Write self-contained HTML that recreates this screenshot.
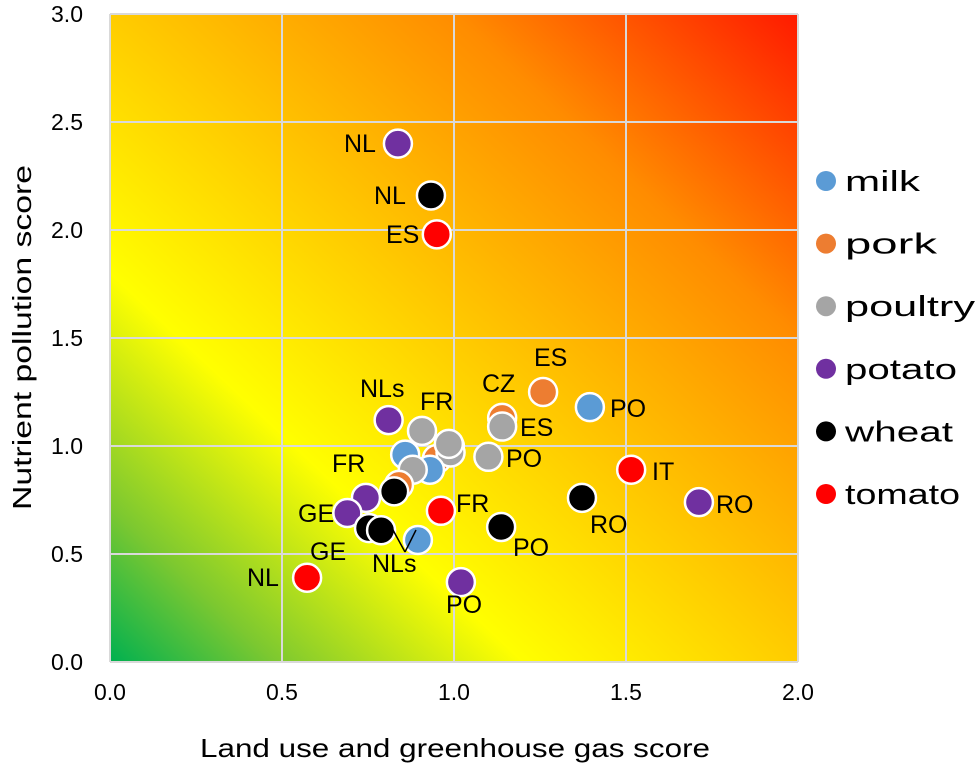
<!DOCTYPE html>
<html><head><meta charset="utf-8"><style>
body{margin:0;background:#fff;}
svg text{font-family:"Liberation Sans",sans-serif;fill:#000;}
</style></head><body>
<svg id="c" width="980" height="774" xmlns="http://www.w3.org/2000/svg">
<defs>
<linearGradient id="bg" x1="0" y1="1" x2="1" y2="0">
<stop offset="0" stop-color="#00b050"/>
<stop offset="0.12" stop-color="#7cc830"/>
<stop offset="0.3" stop-color="#ffff00"/>
<stop offset="0.5" stop-color="#ffcc00"/>
<stop offset="0.75" stop-color="#ff8c00"/>
<stop offset="1" stop-color="#ff1a00"/>
</linearGradient>
</defs>
<rect x="110" y="14" width="688" height="648" fill="url(#bg)"/>
<g id="grid"></g>
<g id="ticks"></g>
<g id="pts"></g>
<g id="lbls"></g>
<line x1="393" y1="530" x2="405" y2="552" stroke="#000" stroke-width="1.5"/>
<line x1="405" y1="552" x2="416" y2="530" stroke="#000" stroke-width="1.5"/>
<text x="200" y="757" font-size="26" textLength="510" lengthAdjust="spacingAndGlyphs">Land use and greenhouse gas score</text>
<text transform="translate(31,510) rotate(-90)" font-size="26" textLength="345" lengthAdjust="spacingAndGlyphs">Nutrient pollution score</text>
<g id="legend"></g>
</svg>
<script>
const xTicks=[0,0.5,1,1.5,2];
const yTicks=[0,0.5,1,1.5,2,2.5,3];
const seriesNames=["milk","pork","poultry","potato","wheat","tomato"];
const seriesColors=["#5b9bd5","#ed7d31","#a5a5a5","#7030a0","#000000","#ff0000"];
const pointSeries=[3,4,5,1,0,1,2,2,5,3,4,4,3,5,3,2,0,1,2,2,2,0,2,1,4,3,3,4,4,0,5];
const pointX=[0.837,0.933,0.95,1.259,1.395,1.14,1.14,1.10,1.515,1.712,1.372,1.137,1.02,0.573,0.81,0.907,0.858,0.95,0.988,0.99,0.985,0.93,0.88,0.84,0.826,0.744,0.69,0.753,0.788,0.895,0.962];
const pointY=[2.40,2.16,1.98,1.25,1.18,1.13,1.09,0.95,0.89,0.74,0.76,0.625,0.37,0.39,1.12,1.07,0.96,0.94,1.0,0.97,1.01,0.89,0.89,0.82,0.79,0.76,0.69,0.62,0.61,0.565,0.70];
const labels=[["NL",344,152],["NL",374,204],["ES",386,243],["ES",534,366],["PO",610,417],["CZ",482,392],["ES",520,436],["PO",506,467],["IT",652,480],["RO",716,513],["RO",590,533],["PO",513,556],["PO",446,613],["NL",247,586],["NLs",360,397],["FR",420,410],["FR",332,472],["GE",298,522],["GE",310,560],["NLs",372,572],["FR",456,512]];
const X=v=>110+v*344, Y=v=>662-v*216;
const NS="http://www.w3.org/2000/svg";
const mk=(t,a,p)=>{const e=document.createElementNS(NS,t);for(const k in a)e.setAttribute(k,a[k]);document.getElementById(p).appendChild(e);return e;};
xTicks.forEach(v=>{
 const l=mk("line",{x1:X(v),x2:X(v),y1:14,y2:662,stroke:"#d9d9d9","stroke-width":2},"grid");
 
 
 const t=mk("text",{x:X(v),y:700,"font-size":23,"text-anchor":"middle"},"ticks");t.textContent=v.toFixed(1);
 
 
});
yTicks.forEach(v=>{
 const l=mk("line",{x1:110,x2:798,y1:Y(v),y2:Y(v),stroke:"#d9d9d9","stroke-width":2},"grid");
 
 
 const t=mk("text",{x:83,y:Y(v)+8,"font-size":23,"text-anchor":"end"},"ticks");t.textContent=v.toFixed(1);
 
 
});
pointX.forEach((v,i)=>{
 const c=mk("circle",{cx:X(v),cy:Y(pointY[i]),r:14,fill:seriesColors[pointSeries[i]],stroke:"#fff","stroke-width":2.5},"pts");
 
 
});
labels.forEach(l=>{
 const t=mk("text",{x:l[1],y:l[2],"font-size":25},"lbls");t.textContent=l[0];
 
 
});
const legendW=[75,92,130,112,108,115];
seriesNames.forEach((n,i)=>{
 const y=181+i*62.6;
 const c=mk("circle",{cx:826,cy:y,r:10,fill:seriesColors[i]},"legend");
 
 
 const t=mk("text",{x:845,y:y+10,"font-size":29,textLength:legendW[i],lengthAdjust:"spacingAndGlyphs"},"legend");t.textContent=n;
 
 
});
</script>
</body></html>
